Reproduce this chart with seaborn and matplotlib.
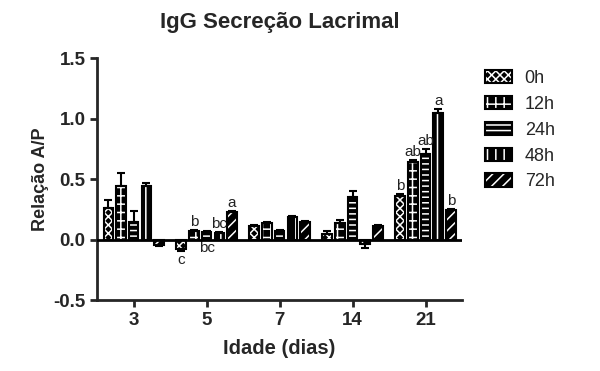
import numpy as np
import pandas as pd
import matplotlib
matplotlib.use("Agg")
import matplotlib.pyplot as plt
import seaborn as sns
from matplotlib.patches import Patch, Rectangle

# ---- data ----
groups = ["3", "5", "7", "14", "21"]
times = ["0h", "12h", "24h", "48h", "72h"]

val_0h = [0.26, -0.08, 0.11, 0.05, 0.36]
val_12h = [0.44, 0.07, 0.135, 0.135, 0.64]
val_24h = [0.145, 0.06, 0.07, 0.355, 0.71]
val_48h = [0.44, 0.055, 0.185, -0.035, 1.05]
val_72h = [-0.045, 0.225, 0.145, 0.115, 0.245]

err_0h = [0.07, 0.015, 0.01, 0.02, 0.015]
err_12h = [0.11, 0.01, 0.015, 0.03, 0.02]
err_24h = [0.09, 0.01, 0.01, 0.05, 0.04]
err_48h = [0.03, 0.01, 0.01, 0.03, 0.03]
err_72h = [0.01, 0.01, 0.01, 0.01, 0.01]

# significance letters: (group, time, letter, above/below)
letters = [
    ("5", "0h", "c", "below"), ("5", "12h", "b", "above"),
    ("5", "24h", "bc", "below"), ("5", "48h", "bc", "above"),
    ("5", "72h", "a", "above"),
    ("21", "0h", "b", "above"), ("21", "12h", "ab", "above"),
    ("21", "24h", "ab", "above"), ("21", "48h", "a", "above"),
    ("21", "72h", "b", "above"),
]

values = [val_0h, val_12h, val_24h, val_48h, val_72h]
errors = [err_0h, err_12h, err_24h, err_48h, err_72h]
df = pd.DataFrame({
    "idade": [g for _ in times for g in groups],
    "tempo": [t for t in times for _ in groups],
    "valor": [v for vs in values for v in vs],
    "erro": [e for es in errors for e in es],
})

sns.set_style("ticks")
plt.rcParams.update({"font.family": ["Liberation Sans", "DejaVu Sans"],
                     "hatch.linewidth": 1.1})

# white patterns on black bars (GraphPad look)
hatches = {"0h": "xxxx", "12h": "++", "24h": "---", "48h": "||", "72h": "///"}

fig = plt.figure(figsize=(6, 3.71), dpi=100)
ax = fig.add_axes([0.162, 0.191, 0.608, 0.652])

sns.barplot(data=df, x="idade", y="valor", hue="tempo", order=groups,
            hue_order=times, palette=["black"] * 5, width=0.87, gap=0.25,
            errorbar=None, edgecolor="white", linewidth=0, legend=False,
            ax=ax, zorder=2)

centers = {}
for t, cont in zip(times, ax.containers):
    for bar in cont:
        bar.set_hatch(hatches[t])
        bar.set_edgecolor("white")
        bar.set_linewidth(0)
        ax.add_patch(Rectangle(bar.get_xy(), bar.get_width(), bar.get_height(),
                               fill=False, edgecolor="black", lw=1.5, zorder=2.5))
        gi = int(round(bar.get_x() + bar.get_width() / 2))
        centers[(groups[gi], t)] = bar.get_x() + bar.get_width() / 2

# one-sided error bars (away from zero)
for _, r in df.iterrows():
    x = centers[(r.idade, r.tempo)]
    lo, hi = (0, r.erro) if r.valor >= 0 else (r.erro, 0)
    ax.errorbar(x, r.valor, yerr=[[lo], [hi]], fmt="none", ecolor="black",
                elinewidth=1.5, capsize=3, capthick=1.5, zorder=3)

for g, t, lab, pos in letters:
    r = df[(df.idade == g) & (df.tempo == t)].iloc[0]
    x = centers[(g, t)]
    if pos == "above":
        y = max(0, r.valor) + (r.erro if r.valor >= 0 else 0) + 0.01
        ax.text(x, y, lab, ha="center", va="bottom", fontsize=11, color="#222222")
    else:
        y = min(0, r.valor - r.erro) - 0.015
        ax.text(x, y, lab, ha="center", va="top", fontsize=11, color="#222222")

ax.axhline(0, color="black", lw=2, zorder=4)
ax.set_xlim(-0.5, 4.5)
ax.set_ylim(-0.5, 1.5)
ax.set_yticks([-0.5, 0.0, 0.5, 1.0, 1.5])
ax.set_yticklabels(["-0.5", "0.0", "0.5", "1.0", "1.5"])
sns.despine(ax=ax)
for s in ["left", "bottom"]:
    ax.spines[s].set_linewidth(2)
ax.tick_params(axis="both", length=5, width=2, labelsize=13.5)
for lab in ax.get_xticklabels() + ax.get_yticklabels():
    lab.set_fontweight("bold")

ax.set_xlabel("Idade (dias)", fontsize=14.5, fontweight="bold", labelpad=7)
ax.set_ylabel("Relação A/P", fontsize=13, fontweight="bold", labelpad=3)
ax.set_title("IgG Secreção Lacrimal", fontsize=16, fontweight="bold", pad=22)

handles = [(Patch(facecolor="black", edgecolor="white", hatch=hatches[t], linewidth=0),
            Patch(facecolor="none", edgecolor="black", linewidth=1.5)) for t in times]
fig.legend(handles=handles, labels=times, loc="upper left",
           bbox_to_anchor=(485 / 600, 1 - 70 / 371),
           frameon=False, fontsize=13, handlelength=1.5, handleheight=0.75,
           handletextpad=0.7, labelspacing=0.49, borderpad=0, borderaxespad=0)

fig.savefig("out.png", dpi=100, facecolor="white")
